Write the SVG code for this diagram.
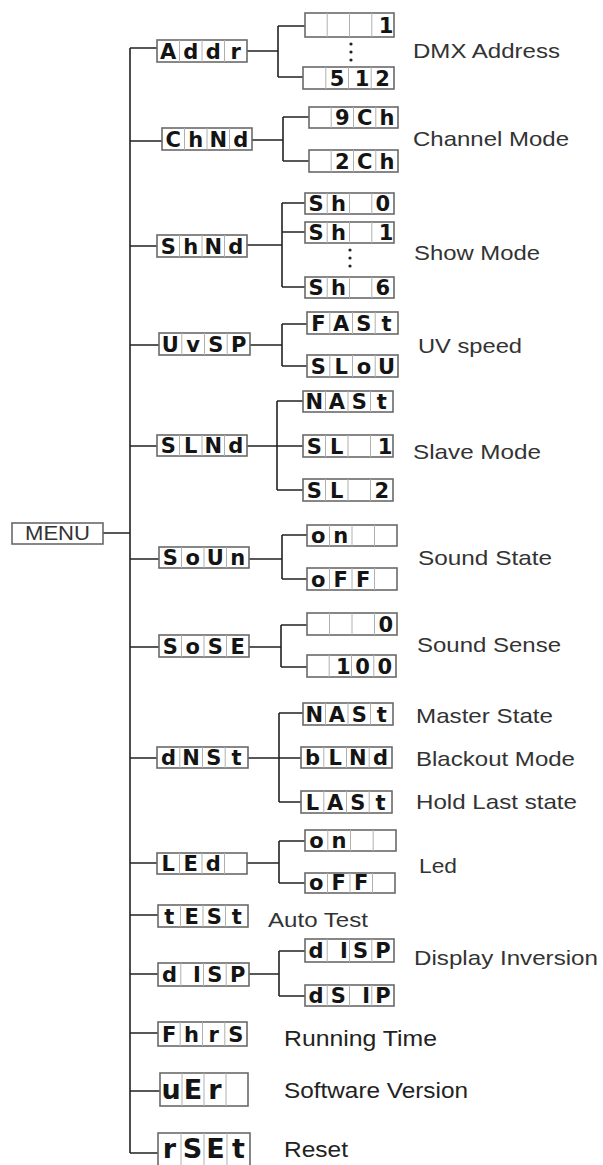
<svg xmlns="http://www.w3.org/2000/svg" width="603" height="1165" viewBox="0 0 603 1165">
<style>
.box{fill:#fff;stroke:#6a6a6a;stroke-width:1.6}
.cell{stroke:#b0b0b0;stroke-width:1;fill:none}
.seg{font-family:"DejaVu Sans",sans-serif;font-weight:bold;font-size:21px;fill:#141414;text-anchor:middle}
.big{font-size:27px}
.lbl{font-family:"Liberation Sans",Arial,sans-serif;font-size:21px;fill:#333}
.lbl2{font-size:22px;fill:#222}
.wire{stroke:#222;stroke-width:1.6;fill:none}
.dot{fill:#222}
</style>
<rect width="603" height="1165" fill="#fff"/>

<g id="connectors">
<path class="wire" d="M130 48V1153 M130 48H157 M130 141H162 M130 246H157 M130 345H159 M130 446H157 M103 533H130 M130 559H159 M130 647H159 M130 758H157 M130 863H157 M130 915H158 M130 974H158 M130 1033H158 M130 1091H160 M130 1153H158"/>
<path class="wire" d="M247 51H278 M278 26V77 M278 26H305 M278 77H303"/>
<path class="wire" d="M252 140H283 M283 117V161 M283 117H309 M283 161H309"/>
<path class="wire" d="M247 245H282 M282 203V287 M282 203H305 M282 232H305 M282 287H305"/>
<path class="wire" d="M250 345H282 M282 324V366 M282 324H307 M282 366H307"/>
<path class="wire" d="M247 446H303 M277 401V490 M277 401H303 M277 490H303"/>
<path class="wire" d="M249 559H282 M282 535V579 M282 535H307 M282 579H307"/>
<path class="wire" d="M249 647H281 M281 625V667 M281 625H307 M281 667H307"/>
<path class="wire" d="M248 758H301 M279 713V802 M279 713H303 M279 802H301"/>
<path class="wire" d="M247 863H279 M279 841V883 M279 841H305 M279 883H305"/>
<path class="wire" d="M249 974H279 M279 951V996 M279 951H305 M279 996H305"/>
<circle class="dot" cx="351" cy="44" r="1.6"/><circle class="dot" cx="351" cy="52" r="1.6"/><circle class="dot" cx="351" cy="60" r="1.6"/>
<circle class="dot" cx="350" cy="250" r="1.6"/><circle class="dot" cx="350" cy="258" r="1.6"/><circle class="dot" cx="350" cy="266" r="1.6"/>
</g>

<g id="menu">
<rect class="box" x="12" y="523" width="91" height="21"/>
<text class="lbl" x="25" y="540" font-size="17" textLength="65" lengthAdjust="spacingAndGlyphs">MENU</text>
</g>

<!-- main level -->
<g id="addr"><rect class="box" x="157" y="40" width="90" height="22"/><path class="cell" d="M179.5 40v22M202 40v22M224.5 40v22"/><text class="seg" x="168.2 190.8 213.2 235.8" y="59">Addr</text></g>
<g id="chnd"><rect class="box" x="162" y="128" width="90" height="22"/><path class="cell" d="M184.5 128v22M207 128v22M229.5 128v22"/><text class="seg" x="173.2 195.8 218.2 240.8" y="147">ChNd</text></g>
<g id="shnd"><rect class="box" x="157" y="235" width="90" height="22"/><path class="cell" d="M179.5 235v22M202 235v22M224.5 235v22"/><text class="seg" x="168.2 190.8 213.2 235.8" y="254">ShNd</text></g>
<g id="uvsp"><rect class="box" x="159" y="333" width="91" height="22"/><path class="cell" d="M181.8 333v22M204.5 333v22M227.2 333v22"/><text class="seg" x="170.4 193.1 215.9 238.6" y="352">UvSP</text></g>
<g id="slnd"><rect class="box" x="157" y="435" width="90" height="21"/><path class="cell" d="M179.5 435v21M202 435v21M224.5 435v21"/><text class="seg" x="168.2 190.8 213.2 235.8" y="453">SLNd</text></g>
<g id="soun"><rect class="box" x="159" y="547" width="90" height="21"/><path class="cell" d="M181.5 547v21M204 547v21M226.5 547v21"/><text class="seg" x="170.2 192.8 215.2 237.8" y="565">SoUn</text></g>
<g id="sose"><rect class="box" x="159" y="635" width="90" height="22"/><path class="cell" d="M181.5 635v22M204 635v22M226.5 635v22"/><text class="seg" x="170.2 192.8 215.2 237.8" y="654">SoSE</text></g>
<g id="dnst"><rect class="box" x="157" y="747" width="91" height="21"/><path class="cell" d="M179.8 747v21M202.5 747v21M225.2 747v21"/><text class="seg" x="168.4 191.1 213.9 236.6" y="765">dNSt</text></g>
<g id="led"><rect class="box" x="157" y="853" width="90" height="21"/><path class="cell" d="M179.5 853v21M202 853v21M224.5 853v21"/><text class="seg" x="168.2 190.8 213.2" y="871">LEd</text></g>
<g id="test"><rect class="box" x="158" y="905" width="90" height="22"/><path class="cell" d="M180.5 905v22M203 905v22M225.5 905v22"/><text class="seg" x="169.2 191.8 214.2 236.8" y="924">tESt</text></g>
<g id="disp"><rect class="box" x="158" y="963" width="91" height="23"/><path class="cell" d="M180.8 963v23M203.5 963v23M226.2 963v23"/><text class="seg" x="169.4 197 214.9 237.6" y="982">dISP</text></g>
<g id="fhrs"><rect class="box" x="158" y="1022" width="89" height="24"/><path class="cell" d="M180.2 1022v24M202.5 1022v24M224.8 1022v24"/><text class="seg" x="169.1 191.4 213.6 235.9" y="1042">FhrS</text></g>
<g id="ver"><rect class="box" x="160" y="1073" width="88" height="33"/><path class="cell" d="M182 1073v33M204 1073v33M226 1073v33"/><text class="seg big" x="171 193 215" y="1099">uEr</text></g>
<g id="rset"><rect class="box" x="158" y="1133" width="92" height="34"/><path class="cell" d="M181 1133v34M204 1133v34M227 1133v34"/><text class="seg big" x="169.5 192.5 215.5 238.5" y="1158">rSEt</text></g>

<!-- sub level -->
<g id="addr-1"><rect class="box" x="305" y="13" width="89" height="24"/><path class="cell" d="M327.2 13v24M349.5 13v24M371.8 13v24"/><text class="seg" x="386" y="33">1</text></g>
<g id="addr-512"><rect class="box" x="303" y="67" width="91" height="22"/><path class="cell" d="M325.8 67v22M348.5 67v22M371.2 67v22"/><text class="seg" x="337.1 362 382.6" y="86">512</text></g>
<g id="ch-9"><rect class="box" x="309" y="107" width="89" height="21"/><path class="cell" d="M331.2 107v21M353.5 107v21M375.8 107v21"/><text class="seg" x="342.4 364.6 386.9" y="125">9Ch</text></g>
<g id="ch-2"><rect class="box" x="309" y="150" width="89" height="22"/><path class="cell" d="M331.2 150v22M353.5 150v22M375.8 150v22"/><text class="seg" x="342.4 364.6 386.9" y="169">2Ch</text></g>
<g id="sh-0"><rect class="box" x="305" y="193" width="89" height="21"/><path class="cell" d="M327.2 193v21M349.5 193v21M371.8 193v21"/><text class="seg" x="316.1 338.4 382.9" y="211">Sh0</text></g>
<g id="sh-1"><rect class="box" x="305" y="222" width="89" height="21"/><path class="cell" d="M327.2 222v21M349.5 222v21M371.8 222v21"/><text class="seg" x="316.1 338.4 386" y="240">Sh1</text></g>
<g id="sh-6"><rect class="box" x="305" y="277" width="89" height="21"/><path class="cell" d="M327.2 277v21M349.5 277v21M371.8 277v21"/><text class="seg" x="316.1 338.4 382.9" y="295">Sh6</text></g>
<g id="uv-fast"><rect class="box" x="307" y="312" width="91" height="22"/><path class="cell" d="M329.8 312v22M352.5 312v22M375.2 312v22"/><text class="seg" x="318.4 341.1 363.9 386.6" y="331">FASt</text></g>
<g id="uv-slow"><rect class="box" x="307" y="355" width="91" height="22"/><path class="cell" d="M329.8 355v22M352.5 355v22M375.2 355v22"/><text class="seg" x="318.4 341.1 363.9 386.6" y="374">SLoU</text></g>
<g id="sl-mast"><rect class="box" x="303" y="391" width="90" height="21"/><path class="cell" d="M325.5 391v21M348 391v21M370.5 391v21"/><text class="seg" x="314.2 336.8 359.2 381.8" y="409">NASt</text></g>
<g id="sl-1"><rect class="box" x="303" y="435" width="90" height="22"/><path class="cell" d="M325.5 435v22M348 435v22M370.5 435v22"/><text class="seg" x="314.2 336.8 385" y="454">SL1</text></g>
<g id="sl-2"><rect class="box" x="303" y="479" width="90" height="22"/><path class="cell" d="M325.5 479v22M348 479v22M370.5 479v22"/><text class="seg" x="314.2 336.8 381.8" y="498">SL2</text></g>
<g id="ss-on"><rect class="box" x="307" y="525" width="90" height="21"/><path class="cell" d="M329.5 525v21M352 525v21M374.5 525v21"/><text class="seg" x="318.2 340.8" y="543">on</text></g>
<g id="ss-off"><rect class="box" x="307" y="568" width="90" height="22"/><path class="cell" d="M329.5 568v22M352 568v22M374.5 568v22"/><text class="seg" x="318.2 340.8 363.2" y="587">oFF</text></g>
<g id="se-0"><rect class="box" x="307" y="613" width="90" height="22"/><path class="cell" d="M329.5 613v22M352 613v22M374.5 613v22"/><text class="seg" x="385.8" y="632">0</text></g>
<g id="se-100"><rect class="box" x="307" y="655" width="89" height="22"/><path class="cell" d="M329.2 655v22M351.5 655v22M373.8 655v22"/><text class="seg" x="343.4 362.6 384.9" y="674">100</text></g>
<g id="dm-mast"><rect class="box" x="303" y="703" width="90" height="22"/><path class="cell" d="M325.5 703v22M348 703v22M370.5 703v22"/><text class="seg" x="314.2 336.8 359.2 381.8" y="722">NASt</text></g>
<g id="dm-blnd"><rect class="box" x="301" y="747" width="91" height="21"/><path class="cell" d="M323.8 747v21M346.5 747v21M369.2 747v21"/><text class="seg" x="312.4 335.1 357.9 380.6" y="765">bLNd</text></g>
<g id="dm-last"><rect class="box" x="301" y="791" width="91" height="22"/><path class="cell" d="M323.8 791v22M346.5 791v22M369.2 791v22"/><text class="seg" x="312.4 335.1 357.9 380.6" y="810">LASt</text></g>
<g id="led-on"><rect class="box" x="305" y="830" width="91" height="21"/><path class="cell" d="M327.8 830v21M350.5 830v21M373.2 830v21"/><text class="seg" x="316.4 339.1" y="848">on</text></g>
<g id="led-off"><rect class="box" x="305" y="873" width="90" height="20"/><path class="cell" d="M327.5 873v20M350 873v20M372.5 873v20"/><text class="seg" x="316.2 338.8 361.2" y="890">oFF</text></g>
<g id="di-disp"><rect class="box" x="305" y="939" width="89" height="23"/><path class="cell" d="M327.2 939v23M349.5 939v23M371.8 939v23"/><text class="seg" x="316.1 344 360.6 382.9" y="958">dISP</text></g>
<g id="di-dsip"><rect class="box" x="305" y="985" width="89" height="21"/><path class="cell" d="M327.2 985v21M349.5 985v21M371.8 985v21"/><text class="seg" x="316.1 338.4 366.2 382.9" y="1003">dSIP</text></g>

<g id="labels">
<text class="lbl" x="413" y="58" textLength="147" lengthAdjust="spacingAndGlyphs">DMX Address</text>
<text class="lbl" x="413" y="146" textLength="156" lengthAdjust="spacingAndGlyphs">Channel Mode</text>
<text class="lbl" x="414" y="260" textLength="126" lengthAdjust="spacingAndGlyphs">Show Mode</text>
<text class="lbl" x="418" y="353" textLength="104" lengthAdjust="spacingAndGlyphs">UV speed</text>
<text class="lbl" x="413" y="459" textLength="128" lengthAdjust="spacingAndGlyphs">Slave Mode</text>
<text class="lbl" x="418" y="565" textLength="134" lengthAdjust="spacingAndGlyphs">Sound State</text>
<text class="lbl" x="417" y="652" textLength="144" lengthAdjust="spacingAndGlyphs">Sound Sense</text>
<text class="lbl" x="416" y="723" textLength="137" lengthAdjust="spacingAndGlyphs">Master State</text>
<text class="lbl" x="416" y="766" textLength="159" lengthAdjust="spacingAndGlyphs">Blackout Mode</text>
<text class="lbl" x="416" y="809" textLength="161" lengthAdjust="spacingAndGlyphs">Hold Last state</text>
<text class="lbl" x="419" y="873" textLength="38" lengthAdjust="spacingAndGlyphs">Led</text>
<text class="lbl" x="268" y="927" textLength="100" lengthAdjust="spacingAndGlyphs">Auto Test</text>
<text class="lbl" x="414" y="965" textLength="184" lengthAdjust="spacingAndGlyphs">Display Inversion</text>
<text class="lbl lbl2" x="284" y="1046" textLength="153" lengthAdjust="spacingAndGlyphs">Running Time</text>
<text class="lbl lbl2" x="284" y="1098" textLength="184" lengthAdjust="spacingAndGlyphs">Software Version</text>
<text class="lbl lbl2" x="284" y="1157" textLength="64" lengthAdjust="spacingAndGlyphs">Reset</text>
</g>
</svg>
